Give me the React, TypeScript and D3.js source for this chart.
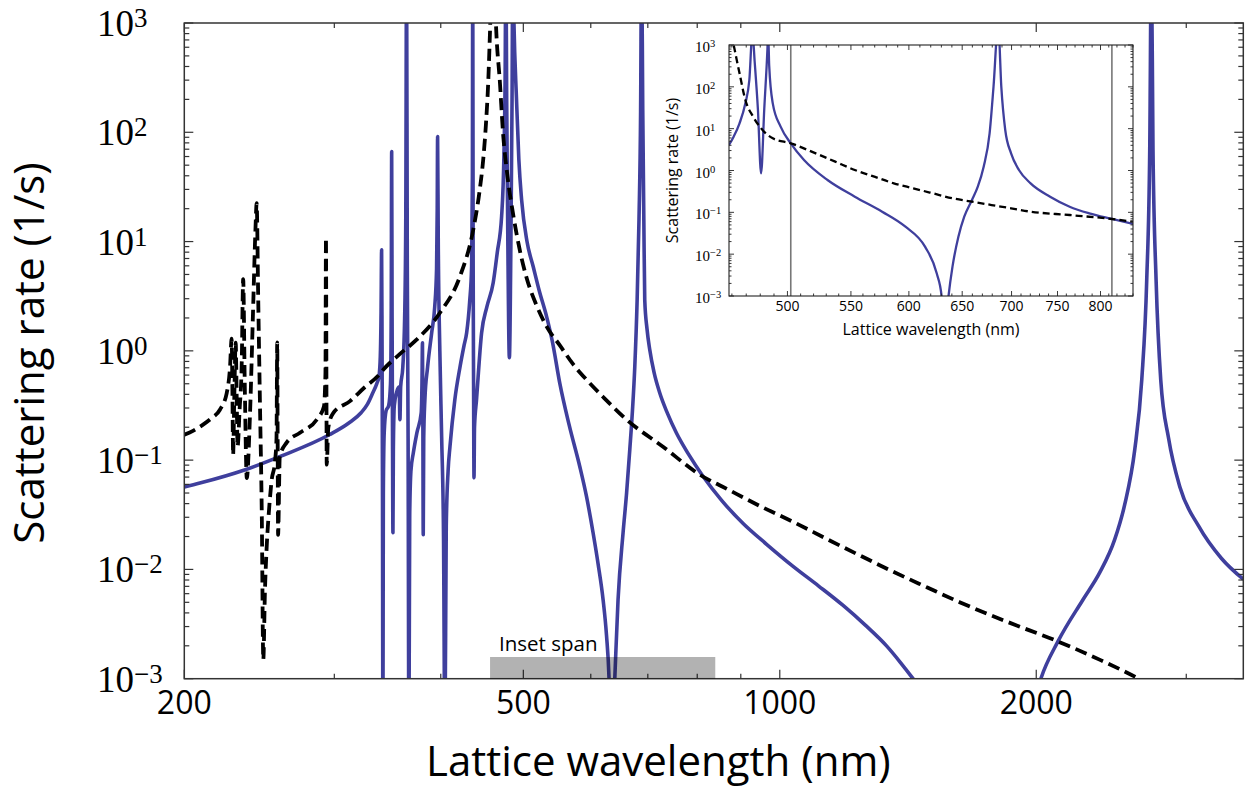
import React from "react";
import * as d3 from "d3";

// ---------- Data ----------
// Each point: [lattice wavelength (nm), log10 of scattering rate (1/s)]

// Main panel – solid blue curve
const blueMain: [number, number][] = [
  [200, -1.246], [208.6, -1.21], [235.8, -1.088], [259.2, -0.966], [295.9, -0.768],
  [312, -0.66], [322.5, -0.566], [328, -0.49], [332.8, -0.386], [336.5, -0.3],
  [338.5, -0.234], [339.7, -0.05], [340.4, 0.35], [340.9, 0.925], [341.3, 0.1],
  [341.7, -1.2], [342.1, -3.6], [342.5, -1.3], [343.3, -0.75], [345, -0.55],
  [347.5, -0.5], [349.2, -0.3], [349.9, 0.4], [350.3, 1.824], [350.7, 0.3],
  [351.1, -0.8], [351.5, -1.664], [351.9, -0.9], [352.8, -0.5], [355, -0.38],
  [357.5, -0.33], [358.2, -0.63], [358.9, -0.33], [361, -0.15], [362.8, 0.3],
  [363.9, 1.2], [364.7, 3.6], [365.4, 0.8], [366.2, -0.8], [367.0, -3.6],
  [367.8, -1.5], [369, -1.1], [371.4, -0.935], [375, -0.75], [379.4, -0.569],
  [380.2, -0.3], [380.7, 0.074], [381.1, -0.6], [381.5, -1.682], [382, -0.8],
  [383.2, -0.447], [386, -0.15], [390.3, 0.166], [393.5, 0.4], [395.5, 0.75],
  [396.2, 1.3], [396.6, 1.962], [397.3, 1.0], [399, 0.0], [401, -0.8],
  [403, -1.7], [404.5, -3.6], [406, -1.6], [408, -1.1], [410.1, -0.875],
  [415.5, -0.447], [421.3, -0.15], [426, 0.05], [429, 0.166], [432.5, 0.45],
  [434.8, 0.769], [435.7, 1.6], [436.1, 3.6], [436.6, 0.8], [437.1, -0.3],
  [437.6, -1.161], [438.2, -0.7], [440.6, -0.447], [446.7, 0.166], [453, 0.4],
  [460.9, 0.623], [466, 0.9], [471.5, 1.23], [474.5, 1.8], [476, 2.5],
  [477, 3.6], [478, 2.3], [479.5, 1.0], [481.5, -0.063], [483.5, 1.0],
  [485, 2.3], [486, 3.6], [487.5, 3.0], [490.9, 2.297], [494, 1.75],
  [497.7, 1.382], [505, 1.0], [513.5, 0.772], [522, 0.55], [532.4, 0.315],
  [541, 0.08], [551.9, -0.3], [566, -0.68], [582.4, -1.058], [593, -1.33],
  [603.8, -1.667], [612, -1.95], [620.3, -2.277], [626, -2.6], [630.4, -3.0],
  [632.5, -3.4], [634.5, -4.5], [637, -3.4], [640.2, -3.0], [645.9, -2.277],
  [654.7, -1.665], [661, -1.3], [666.7, -0.905], [671.5, -0.55], [675.8, -0.143],
  [680.1, 0.468], [683.5, 1.2], [686.5, 2.2], [688.3, 3.6], [690.5, 2.2],
  [692.5, 1.2], [694.2, 0.468], [698.5, 0.2], [703.7, 0.01], [712, -0.2],
  [723, -0.386], [738, -0.57], [756.3, -0.752], [782, -0.95], [812.9, -1.149],
  [855, -1.37], [905.7, -1.58], [965, -1.77], [1036.6, -1.972], [1110, -2.15],
  [1186.7, -2.33], [1260, -2.51], [1334.5, -2.70], [1385, -2.85], [1433.5, -3.0],
  [1480, -3.15], [1700, -4.0], [1990, -3.2], [2025, -3.0], [2121, -2.659],
  [2269, -2.277], [2374, -2.03], [2472, -1.728], [2540, -1.408], [2610, -0.905],
  [2660, -0.265], [2696, 0.65], [2718, 1.84], [2730, 3.6], [2742, 1.84],
  [2765, 0.65], [2800, -0.265], [2860, -0.8], [2950, -1.25], [3100, -1.6],
  [3300, -1.9], [3500, -2.09],
];

// Main panel – dashed black curve
const dashedMain: [number, number][] = [
  [200, -0.768], [205, -0.73], [210, -0.68], [215, -0.62], [220.2, -0.539],
  [224.3, -0.386], [226.3, -0.15], [227.3, 0.111], [227.8, -0.4], [228.2, -0.951],
  [228.9, -0.45], [229.8, 0.074], [230.4, -0.4], [231.0, -0.875], [232.2, -0.55],
  [233.6, -0.1], [234.5, 0.657], [235.5, -0.3], [236.8, -1.164], [238.9, -0.566],
  [240.8, 0.346], [242.4, 1.108], [243.2, 1.352], [244.2, 0.5], [245.4, -0.5],
  [246.6, -1.5], [247.6, -2.826], [248.7, -2.2], [249.9, -1.79], [251.5, -1.45],
  [253.3, -1.179], [255.5, -1.02], [256.6, -0.8], [257.1, 0.077], [257.4, -0.8],
  [257.7, -1.683], [258.9, -0.966], [263.7, -0.84], [273.4, -0.749], [286, -0.63],
  [291.7, -0.509], [292.9, -0.2], [293.3, 1.032], [293.6, 0.0], [293.9, -1.042],
  [295.2, -0.7], [299.1, -0.569], [313, -0.46], [325, -0.34], [338.5, -0.22],
  [342.4, -0.173], [358, -0.03], [374.7, 0.102], [399.1, 0.349], [421.3, 0.681],
  [436.7, 1.108], [444, 1.45], [448.6, 1.748], [452, 2.08], [454.7, 2.45],
  [457.2, 2.98], [460.8, 3.8], [464.4, 2.98], [469.4, 2.45], [473.3, 1.995],
  [479, 1.6], [486.1, 1.263], [495, 0.93], [505.2, 0.651], [518, 0.42],
  [532.8, 0.22], [551.9, 0.05], [571.7, -0.12], [594, -0.27], [620, -0.42],
  [661, -0.63], [730, -0.88], [805.8, -1.134], [870, -1.27], [947.8, -1.42],
  [1040, -1.57], [1134.5, -1.72], [1240, -1.87], [1358, -2.02], [1490, -2.165],
  [1626, -2.30], [1850, -2.48], [2121, -2.659], [2380, -2.83], [2637, -3.0],
  [2800, -3.12],
];

// Inset – solid blue curve
const blueInset: [number, number][] = [
  [458, 0.61], [461.2, 0.809], [465.3, 1.127], [469.4, 1.606], [472.2, 2.163],
  [474.4, 3.3], [476, 2.6], [478.3, 1.47], [480.6, -0.068], [482.9, 1.47],
  [485.2, 2.9], [485.7, 3.3], [486.5, 2.5], [489.1, 1.606], [494.9, 1.048],
  [502.5, 0.649], [512.6, 0.251], [531, -0.227], [553.2, -0.625], [576.4, -0.984],
  [596.9, -1.343], [614.7, -1.821], [625.6, -2.458], [630.2, -3.0], [633, -4.0],
  [636.8, -3.0], [640.6, -2.299], [646.3, -1.582], [652, -1.104], [659.6, -0.705],
  [665.4, -0.386], [671.3, 0.092], [677.3, 0.888], [681.3, 2.004], [686.1, 3.5],
  [689.3, 2.004], [693.4, 0.968], [699.5, 0.41], [707.8, 0.012], [720.3, -0.307],
  [741.7, -0.625], [763.8, -0.865], [786.6, -1.024], [813.8, -1.159], [840, -1.279],
];

// Inset – dashed black curve
const dashedInset: [number, number][] = [
  [458, 3.5], [461.2, 3.0], [465.3, 2.323], [469.4, 1.685], [474.9, 1.287],
  [480.6, 1.008], [489.1, 0.769], [502.5, 0.649], [521.7, 0.41], [537.2, 0.211],
  [553.2, 0.012], [569.7, -0.147], [586.6, -0.307], [604, -0.426], [622.1, -0.546],
  [640.6, -0.665], [659.6, -0.745], [679.3, -0.825], [699.5, -0.904], [720.3, -0.984],
  [763.8, -1.064], [813.8, -1.159], [840, -1.223],
];

// Axes / annotations
const xDomain: [number, number] = [200, 3500];
const yDomain: [number, number] = [1e-3, 1e3];
const xMajorTicks = [200, 500, 1000, 2000];
const xMinorTicks = [300, 400, 600, 700, 800, 900, 3000];
const yDecades = [-3, -2, -1, 0, 1, 2, 3];
const insetDomain: [number, number] = [458, 840];
const insetXTicks = [500, 550, 600, 650, 700, 750, 800];
const insetXMinor = [460, 470, 480, 490, 510, 520, 530, 540, 560, 570, 580, 590, 610, 620, 630, 640, 660, 670, 680, 690, 710, 720, 730, 740, 760, 770, 780, 790, 810, 820, 830, 840];
const insetMagic = [502.5, 813.8];
const insetSpan: [number, number] = [457, 840];

const BLUE = "#3f3f9d";
const SANS = "'Open Sans', 'Noto Sans', sans-serif";
const SERIF = "'Liberation Serif', 'DejaVu Serif', serif";

function expLabel(k: number) {
  return k < 0 ? "\u2212" + Math.abs(k) : String(k);
}

export default function App() {
  // main scales
  const L = 184.3, R = 1243.3, T = 23, B = 678.7;
  const x = d3.scaleLog().domain(xDomain).range([L, R]);
  const y = d3.scaleLog().domain(yDomain).range([B, T]);
  const mainLine = d3
    .line<[number, number]>()
    .x((d) => x(d[0]))
    .y((d) => y(Math.pow(10, d[1])))
    .curve(d3.curveMonotoneX);

  // inset scales
  const iL = 729, iR = 1133, iT = 45, iB = 296;
  const xi = d3.scaleLog().domain(insetDomain).range([iL, iR]);
  const yi = d3.scaleLog().domain(yDomain).range([iB, iT]);
  const insetLine = d3
    .line<[number, number]>()
    .x((d) => xi(d[0]))
    .y((d) => yi(Math.pow(10, d[1])))
    .curve(d3.curveMonotoneX);

  const yMinor: number[] = [];
  for (let k = -3; k < 3; k++) for (let m = 2; m <= 9; m++) yMinor.push(m * Math.pow(10, k));

  const tickColor = "#333";

  return (
    <svg
      width={1253}
      height={789}
      viewBox="0 0 1253 789"
      style={{ position: "absolute", left: 0, top: 0, background: "#fff" }}
    >
      <defs>
        <clipPath id="mainClip">
          <rect x={L} y={T} width={R - L} height={B - T} />
        </clipPath>
        <clipPath id="insetClip">
          <rect x={iL} y={iT} width={iR - iL} height={iB - iT} />
        </clipPath>
      </defs>
      <rect x={0} y={0} width={1253} height={789} fill="#fff" />

      {/* main curves */}
      <g clipPath="url(#mainClip)">
        <path d={mainLine(blueMain) || ""} fill="none" stroke={BLUE} strokeWidth={3.6} strokeLinejoin="round" />
        <path d={mainLine(dashedMain) || ""} fill="none" stroke="#000" strokeWidth={3.8} strokeDasharray="12 6" strokeLinejoin="round" />
      </g>

      {/* main ticks */}
      <g stroke={tickColor} strokeWidth={1.2}>
        {yDecades.map((k) => {
          const yy = y(Math.pow(10, k));
          return (
            <g key={"ym" + k}>
              <line x1={L} x2={L + 9} y1={yy} y2={yy} />
              <line x1={R} x2={R - 9} y1={yy} y2={yy} />
            </g>
          );
        })}
        {yMinor.map((v, i) => {
          const yy = y(v);
          return (
            <g key={"yn" + i}>
              <line x1={L} x2={L + 5} y1={yy} y2={yy} />
              <line x1={R} x2={R - 5} y1={yy} y2={yy} />
            </g>
          );
        })}
        {xMajorTicks.map((v) => (
          <g key={"xm" + v}>
            <line x1={x(v)} x2={x(v)} y1={B} y2={B - 9} />
            <line x1={x(v)} x2={x(v)} y1={T} y2={T + 9} />
          </g>
        ))}
        {xMinorTicks.map((v) => (
          <g key={"xn" + v}>
            <line x1={x(v)} x2={x(v)} y1={B} y2={B - 5} />
            <line x1={x(v)} x2={x(v)} y1={T} y2={T + 5} />
          </g>
        ))}
      </g>
      <rect x={L} y={T} width={R - L} height={B - T} fill="none" stroke="#333" strokeWidth={1.5} />

      {/* inset span marker */}
      <rect
        x={x(insetSpan[0])}
        y={657}
        width={x(insetSpan[1]) - x(insetSpan[0])}
        height={B - 657}
        fill="#000"
        fillOpacity={0.3}
      />
      <text x={499} y={651} fontFamily={SANS} fontSize={20.5} fill="#000">
        Inset span
      </text>

      {/* main tick labels */}
      {yDecades.map((k) => (
        <text key={"yl" + k} x={97} y={y(Math.pow(10, k)) + 13} fontFamily={SERIF} fontSize={37} fill="#000">
          10
          <tspan dy={-9} fontSize={27}>
            {expLabel(k)}
          </tspan>
        </text>
      ))}
      {xMajorTicks.map((v) => (
        <text key={"xl" + v} x={x(v)} y={714} textAnchor="middle" fontFamily={SANS} fontSize={32} fill="#000">
          {v}
        </text>
      ))}
      <text x={426} y={776} fontFamily={SANS} fontSize={42} fill="#000">
        Lattice wavelength (nm)
      </text>
      <text
        transform="translate(44,353) rotate(-90)"
        textAnchor="middle"
        fontFamily={SANS}
        fontSize={42}
        fill="#000"
      >
        Scattering rate (1/s)
      </text>

      {/* inset */}
      <rect x={iL} y={iT} width={iR - iL} height={iB - iT} fill="#fff" />
      <g clipPath="url(#insetClip)">
        {insetMagic.map((v) => (
          <line key={"mg" + v} x1={xi(v)} x2={xi(v)} y1={iT} y2={iB} stroke="#777" strokeWidth={1.6} />
        ))}
        <path d={insetLine(blueInset) || ""} fill="none" stroke={BLUE} strokeWidth={2.3} strokeLinejoin="round" />
        <path d={insetLine(dashedInset) || ""} fill="none" stroke="#000" strokeWidth={2.3} strokeDasharray="7 4" />
      </g>
      <g stroke="#222" strokeWidth={0.9}>
        {yDecades.map((k) => {
          const yy = yi(Math.pow(10, k));
          return (
            <g key={"iym" + k}>
              <line x1={iL} x2={iL + 5} y1={yy} y2={yy} />
              <line x1={iR} x2={iR - 5} y1={yy} y2={yy} />
            </g>
          );
        })}
        {yMinor.map((v, i) => {
          const yy = yi(v);
          return (
            <g key={"iyn" + i}>
              <line x1={iL} x2={iL + 2.5} y1={yy} y2={yy} />
              <line x1={iR} x2={iR - 2.5} y1={yy} y2={yy} />
            </g>
          );
        })}
        {insetXTicks.map((v) => (
          <g key={"ixm" + v}>
            <line x1={xi(v)} x2={xi(v)} y1={iB} y2={iB - 5} />
            <line x1={xi(v)} x2={xi(v)} y1={iT} y2={iT + 5} />
          </g>
        ))}
        {insetXMinor.map((v) => (
          <g key={"ixn" + v}>
            <line x1={xi(v)} x2={xi(v)} y1={iB} y2={iB - 2.5} />
            <line x1={xi(v)} x2={xi(v)} y1={iT} y2={iT + 2.5} />
          </g>
        ))}
      </g>
      <rect x={iL} y={iT} width={iR - iL} height={iB - iT} fill="none" stroke="#222" strokeWidth={1.1} />
      {yDecades.map((k) => (
        <text key={"iyl" + k} x={695} y={yi(Math.pow(10, k)) + 7} fontFamily={SERIF} fontSize={15} fill="#000">
          10
          <tspan dy={-5} fontSize={10.5}>
            {expLabel(k)}
          </tspan>
        </text>
      ))}
      {insetXTicks.map((v) => (
        <text key={"ixl" + v} x={xi(v)} y={311} textAnchor="middle" fontFamily={SANS} fontSize={14} fill="#000">
          {v}
        </text>
      ))}
      <text x={(iL + iR) / 2} y={335} textAnchor="middle" fontFamily={SANS} fontSize={16} fill="#000">
        Lattice wavelength (nm)
      </text>
      <text
        transform={`translate(678,${(iT + iB) / 2}) rotate(-90)`}
        textAnchor="middle"
        fontFamily={SANS}
        fontSize={16}
        fill="#000"
      >
        Scattering rate (1/s)
      </text>
    </svg>
  );
}
